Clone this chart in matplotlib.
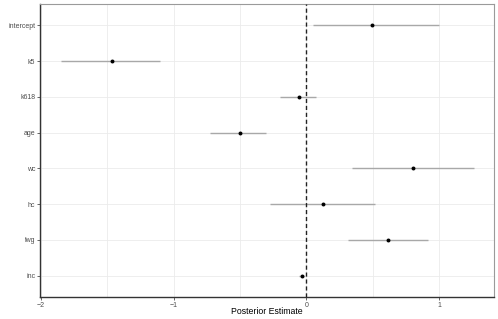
import matplotlib
matplotlib.use("Agg")
import matplotlib.pyplot as plt
from matplotlib.ticker import MultipleLocator

terms = ["intercept", "k5", "k618", "age", "wc", "hc", "lwg", "inc"]
estimate = [0.496, -1.466, -0.058, -0.501, 0.805, 0.123, 0.611, -0.035]
lower = [0.053, -1.850, -0.198, -0.722, 0.343, -0.273, 0.310, -0.055]
upper = [1.000, -1.105, 0.075, -0.303, 1.260, 0.516, 0.917, -0.015]
xticks = [-2, -1, 0, 1]

plt.rcParams['font.family'] = ['Liberation Sans', 'DejaVu Sans']
fig = plt.figure(figsize=(4.98, 3.19), dpi=100)
ax = fig.add_axes([40/498, 1 - 297/319, (494-40)/498, (297-4)/319])

n = len(terms)
ypos = [n - i for i in range(n)]

ax.set_xlim(-2.006, 1.413)
ax.set_ylim(0.4, n + 0.6)
ax.xaxis.set_minor_locator(MultipleLocator(0.5))
ax.set_xticks(xticks)
ax.set_xticklabels([("\u2212" + str(abs(t))) if t < 0 else str(t) for t in xticks])
ax.set_yticks(ypos)
ax.set_yticklabels(terms)

ax.grid(True, which='major', color='#ebebeb', linewidth=0.6)
ax.grid(True, which='minor', axis='x', color='#ebebeb', linewidth=0.6)
ax.set_axisbelow(True)

ax.hlines(ypos, lower, upper, color='#a8a8a8', linewidth=1.0, zorder=2)
ax.axvline(0, color='#222222', linestyle=(0, (3, 2)), linewidth=1.0, zorder=3)
ax.scatter(estimate, ypos, s=8, color='black', zorder=4, linewidths=0)

for side in ['top', 'right']:
    ax.spines[side].set_color('#9a9a9a')
    ax.spines[side].set_linewidth(0.8)
for side in ['left', 'bottom']:
    ax.spines[side].set_color('#333333')
    ax.spines[side].set_linewidth(1.0)

ax.tick_params(axis='both', which='major', labelsize=5, colors='#4d4d4d', length=2, width=0.6, pad=1.5)
ax.tick_params(axis='x', which='minor', length=0)
ax.set_xlabel("Posterior Estimate", fontsize=6.3, color='black')
ax.xaxis.set_label_coords(0.5, -(311 - 297) / 293, transform=ax.transAxes)
ax.xaxis.label.set_va('center')

fig.savefig("out.png", dpi=100)
